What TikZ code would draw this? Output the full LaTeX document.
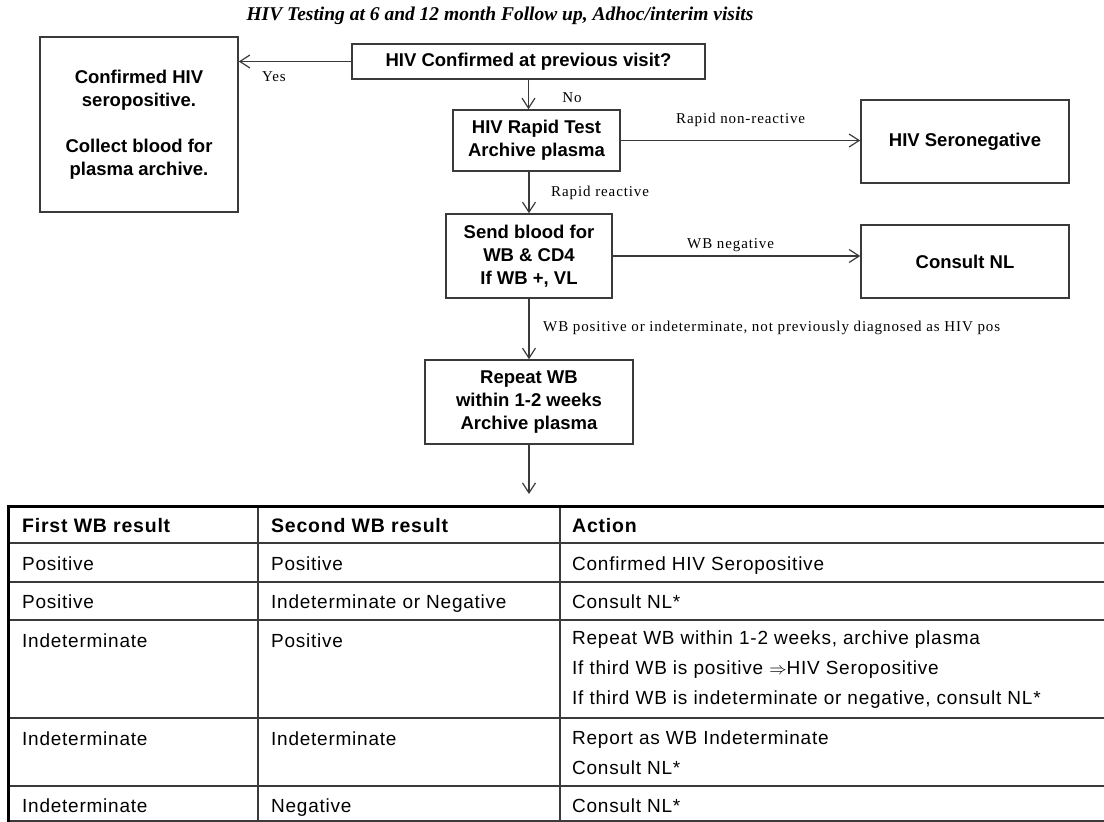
\documentclass[tikz,border=0pt]{standalone}
\usepackage{fontspec}
\usetikzlibrary{arrows.meta}
\newfontfamily\boxfont{Liberation Sans}
\newfontfamily\lblfont[LetterSpace=6]{Liberation Serif}
\newfontfamily\cellfont[LetterSpace=4]{Liberation Sans}
\newfontfamily\titlefont{Liberation Serif}
\definecolor{linegray}{HTML}{3A3A3A}

\begin{document}
\begin{tikzpicture}[x=1pt,y=-1pt,
  >={Straight Barb[length=10pt,width=13pt]},
  box node/.style={draw=linegray,line width=1.6pt,align=center,inner sep=0pt,
    font=\boxfont\bfseries\fontsize{18.5}{23}\selectfont},
  label node/.style={inner sep=0pt,font=\lblfont\fontsize{15}{18}\selectfont},
  head node/.style={anchor=base west,inner sep=0pt,font=\cellfont\bfseries\fontsize{19.5}{24}\selectfont},
  cell node/.style={anchor=base west,inner sep=0pt,align=left,font=\cellfont\fontsize{19}{30}\selectfont},
  every edge/.style={draw=linegray,line width=1.2pt,->}]

  \useasboundingbox (0,0) rectangle (1104,822);

  \node[font=\titlefont\bfseries\itshape\fontsize{19.5}{24}\selectfont] (title) at (500,16)
    {HIV Testing at 6 and 12 month Follow up, Adhoc/interim visits};

  % flow chart boxes
  \node[box node,minimum width=353,minimum height=35] (conf) at (528.5,61.5) {HIV Confirmed at previous visit?};
  \node[box node,minimum width=198,minimum height=175] (seropos) at (139,124.5)
    {Confirmed HIV\\seropositive.\\[23pt]Collect blood for\\plasma archive.};
  \node[box node,minimum width=167,minimum height=61] (rapid) at (536.5,140.5) {HIV Rapid Test\\Archive plasma};
  \node[box node,minimum width=208,minimum height=83] (seroneg) at (965,141.5) {HIV Seronegative};
  \node[box node,minimum width=166,minimum height=84] (sendbl) at (529,256) {Send blood for\\WB \& CD4\\If WB +, VL};
  \node[box node,minimum width=208,minimum height=73] (consult) at (965,261.5) {Consult NL};
  \node[box node,minimum width=208,minimum height=84] (repeat) at (529,402) {Repeat WB\\within 1-2 weeks\\Archive plasma};
  \coordinate (tblin) at (529,494);

  \path
   (conf.west) edge (conf.west -| seropos.east)
   (conf.south) edge (conf.south |- rapid.north)
   (rapid.east) edge (rapid.east -| seroneg.west)
   (sendbl.north |- rapid.south) edge (sendbl.north)
   (sendbl.east) edge (sendbl.east -| consult.west)
   (sendbl.south) edge (repeat.north)
   (repeat.south) edge (tblin);

  % connector labels
  \node[label node,anchor=base] (yes) at (274,81) {Yes};
  \node[label node,anchor=base] (no) at (572,102) {No};
  \node[label node,anchor=base west] (nonreact) at (676,123) {Rapid non-reactive};
  \node[label node,anchor=base west] (react) at (551,196) {Rapid reactive};
  \node[label node,anchor=base west] (wbneg) at (687,248) {WB negative};
  \node[label node,anchor=base west] (wbpos) at (543,331)
    {WB positive or indeterminate, not previously diagnosed as HIV pos};

  % result table
  \draw[linegray,line width=1.3pt]
    (8,543) -- (1104,543) (8,582) -- (1104,582) (8,620) -- (1104,620)
    (8,718) -- (1104,718) (8,786) -- (1104,786) (8,821) -- (1104,821)
    (258,505) -- (258,822) (560,505) -- (560,822);
  \draw[black,line width=3.5pt] (6.5,506.5) -- (1104,506.5);
  \draw[black,line width=3pt] (8.5,505) -- (8.5,822);

  \node[head node] (h1) at (22,532) {First WB result};
  \node[head node] (h2) at (271,532) {Second WB result};
  \node[head node] (h3) at (572,532) {Action};

  \node[cell node] (a1) at (22,570) {Positive};
  \node[cell node] (b1) at (271,570) {Positive};
  \node[cell node] (c1) at (572,570) {Confirmed HIV Seropositive};

  \node[cell node] (a2) at (22,608) {Positive};
  \node[cell node] (b2) at (271,608) {Indeterminate or Negative};
  \node[cell node] (c2) at (572,608) {Consult NL*};

  \node[cell node] (a3) at (22,647) {Indeterminate};
  \node[cell node] (b3) at (271,647) {Positive};
  \node[cell node,anchor=west] (c3) at (572,670) {Repeat WB within 1-2 weeks, archive plasma\\
    If third WB is positive $\Rightarrow$HIV Seropositive\\
    If third WB is indeterminate or negative, consult NL*};

  \node[cell node] (a4) at (22,745) {Indeterminate};
  \node[cell node] (b4) at (271,745) {Indeterminate};
  \node[cell node,anchor=west] (c4) at (572,752.5) {Report as WB Indeterminate\\Consult NL*};

  \node[cell node] (a5) at (22,812) {Indeterminate};
  \node[cell node] (b5) at (271,812) {Negative};
  \node[cell node] (c5) at (572,812) {Consult NL*};
\end{tikzpicture}
\end{document}
